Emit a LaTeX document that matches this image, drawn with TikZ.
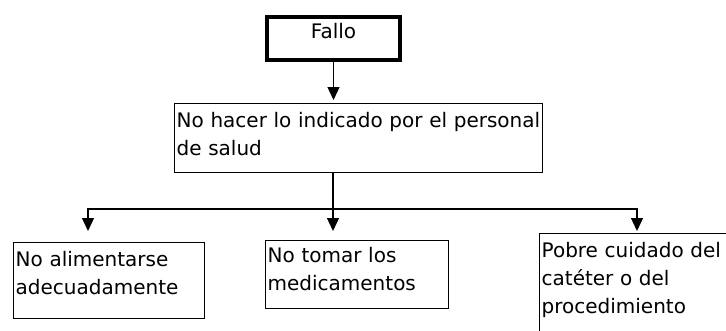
\documentclass[tikz,border=0pt]{standalone}
\usepackage{fontspec}
\setmainfont{DejaVu Sans}
\usetikzlibrary{arrows.meta}

\begin{document}
\begin{tikzpicture}[x=1pt,y=-1pt,
	caja/.style={draw,line width=1.3pt,inner xsep=2pt,inner ysep=0pt,anchor=north west,align=left,font=\fontsize{20}{28}\selectfont},
	flecha/.style={line width=1.3pt,-{Triangle[width=12pt,length=13pt]}}]
	\useasboundingbox (0,0) rectangle (726,330);
	% Top event
	\node[draw,line width=4pt,inner sep=0pt,minimum width=133pt,text height=21pt,text depth=22pt,anchor=north west,font=\fontsize{20}{24}\selectfont] (fallo) at (265,15) {Fallo};
	% Second level
	\node[caja,text width=364pt,text height=24pt,text depth=45pt] (indicado) at (174,103) {No hacer lo indicado por el personal\\de salud};
	% Causes
	\node[caja,text width=187pt,text height=24pt,text depth=52pt] (alimento) at (13,242) {No alimentarse\\adecuadamente};
	\node[caja,text width=179pt,text height=22pt,text depth=46pt] (medicina) at (265,240) {No tomar los\\medicamentos};
	\node[caja,text width=197pt,text height=24pt,text depth=88pt] (cateter) at (539,233) {Pobre cuidado del\\catéter o del\\procedimiento};
	% Branch points
	\coordinate (cruce) at (333,209);
	\coordinate (puntaA) at (88,231);
	\coordinate (puntaB) at (333,231);
	\coordinate (puntaC) at (637,231);
	% Connectors
	\draw[flecha,shorten >=3pt] (fallo.south) -- (fallo.south |- indicado.north);
	\draw[line width=1.3pt] (cruce |- indicado.south) -- (cruce);
	\draw[flecha] (cruce) -| (puntaA);
	\draw[flecha] (cruce) -- (puntaB);
	\draw[flecha] (cruce) -| (puntaC);
\end{tikzpicture}
\end{document}
